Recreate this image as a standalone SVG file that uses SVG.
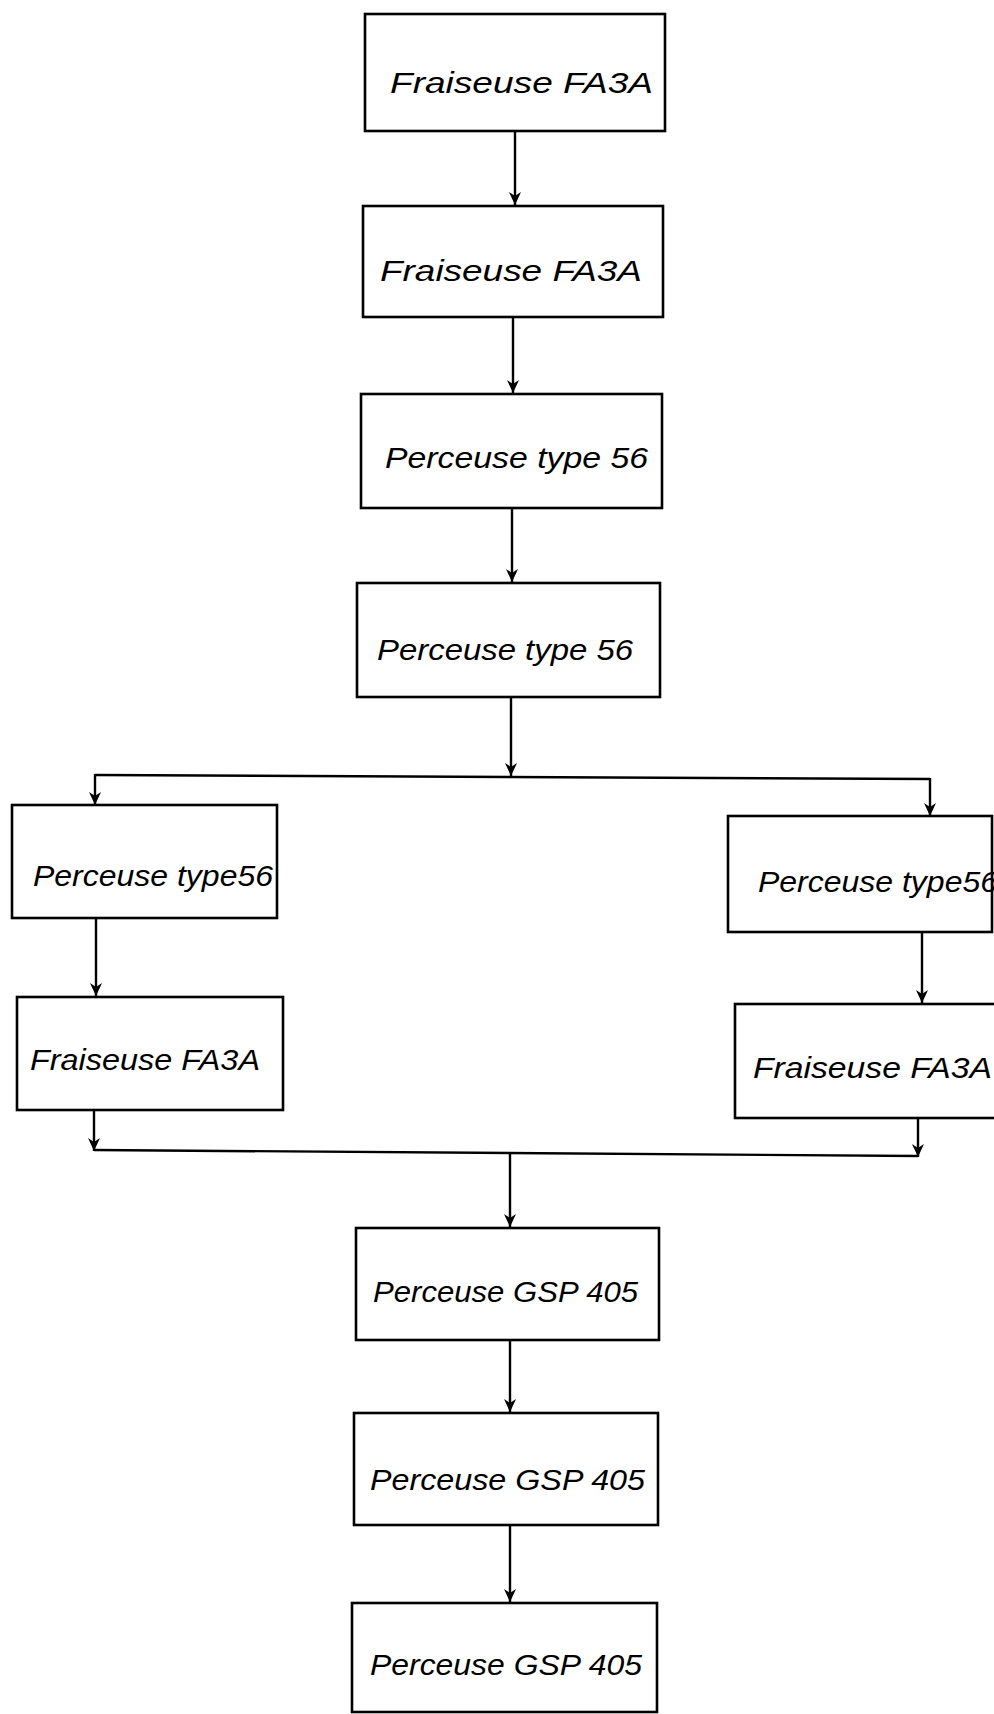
<svg xmlns="http://www.w3.org/2000/svg" width="994" height="1714" viewBox="0 0 994 1714">
<defs>
<marker id="arr" markerUnits="userSpaceOnUse" markerWidth="14" markerHeight="12" refX="13" refY="6" orient="auto">
<path d="M0,0 L13,6 L0,12 L4,6 z" fill="#000"/>
</marker>
<style>
.box{fill:#fff;stroke:#000;stroke-width:2.6}
.lbl{font-family:"Liberation Sans","DejaVu Sans",sans-serif;font-style:italic;font-size:30px;fill:#000}
.con{fill:none;stroke:#000;stroke-width:2.4}
</style>
</defs>
<rect width="994" height="1714" fill="#fff"/>
<g id="connectors">
<line class="con" x1="515" y1="131" x2="515" y2="205" marker-end="url(#arr)"/>
<line class="con" x1="513" y1="317" x2="513" y2="393" marker-end="url(#arr)"/>
<line class="con" x1="512" y1="508" x2="512" y2="582" marker-end="url(#arr)"/>
<line class="con" x1="511" y1="697" x2="511" y2="776" marker-end="url(#arr)"/>
<line class="con" x1="95" y1="775" x2="930" y2="779"/>
<line class="con" x1="95" y1="774" x2="95" y2="805" marker-end="url(#arr)"/>
<line class="con" x1="930" y1="778" x2="930" y2="816" marker-end="url(#arr)"/>
<line class="con" x1="96" y1="919" x2="96" y2="996" marker-end="url(#arr)"/>
<line class="con" x1="922" y1="932" x2="922" y2="1003" marker-end="url(#arr)"/>
<line class="con" x1="94" y1="1110" x2="94" y2="1151" marker-end="url(#arr)"/>
<line class="con" x1="918" y1="1118" x2="918" y2="1157" marker-end="url(#arr)"/>
<line class="con" x1="94" y1="1150" x2="918" y2="1156"/>
<line class="con" x1="510" y1="1153" x2="510" y2="1227" marker-end="url(#arr)"/>
<line class="con" x1="510" y1="1340" x2="510" y2="1412" marker-end="url(#arr)"/>
<line class="con" x1="510" y1="1525" x2="510" y2="1602" marker-end="url(#arr)"/>
</g>
<g id="n1"><rect class="box" x="365" y="14" width="300" height="117"/><text class="lbl" x="390" y="93" textLength="263" lengthAdjust="spacingAndGlyphs">Fraiseuse FA3A</text></g>
<g id="n2"><rect class="box" x="363" y="206" width="300" height="111"/><text class="lbl" x="380" y="281" textLength="262" lengthAdjust="spacingAndGlyphs">Fraiseuse FA3A</text></g>
<g id="n3"><rect class="box" x="361" y="394" width="301" height="114"/><text class="lbl" x="385" y="468" textLength="263" lengthAdjust="spacingAndGlyphs">Perceuse type 56</text></g>
<g id="n4"><rect class="box" x="357" y="583" width="303" height="114"/><text class="lbl" x="377" y="660" textLength="256" lengthAdjust="spacingAndGlyphs">Perceuse type 56</text></g>
<g id="n5"><rect class="box" x="12" y="805" width="265" height="113"/><text class="lbl" x="33" y="886" textLength="240" lengthAdjust="spacingAndGlyphs">Perceuse type56</text></g>
<g id="n6"><rect class="box" x="17" y="997" width="266" height="113"/><text class="lbl" x="30" y="1070" textLength="230" lengthAdjust="spacingAndGlyphs">Fraiseuse FA3A</text></g>
<g id="n7"><rect class="box" x="728" y="816" width="264" height="116"/><text class="lbl" x="758" y="892" textLength="240" lengthAdjust="spacingAndGlyphs">Perceuse type56</text></g>
<g id="n8"><rect class="box" x="735" y="1004" width="270" height="114"/><text class="lbl" x="753" y="1078" textLength="239" lengthAdjust="spacingAndGlyphs">Fraiseuse FA3A</text></g>
<g id="n9"><rect class="box" x="356" y="1228" width="303" height="112"/><text class="lbl" x="373" y="1302" textLength="265" lengthAdjust="spacingAndGlyphs">Perceuse GSP 405</text></g>
<g id="n10"><rect class="box" x="354" y="1413" width="304" height="112"/><text class="lbl" x="370" y="1490" textLength="275" lengthAdjust="spacingAndGlyphs">Perceuse GSP 405</text></g>
<g id="n11"><rect class="box" x="352" y="1603" width="305" height="109"/><text class="lbl" x="370" y="1675" textLength="272" lengthAdjust="spacingAndGlyphs">Perceuse GSP 405</text></g>
</svg>
